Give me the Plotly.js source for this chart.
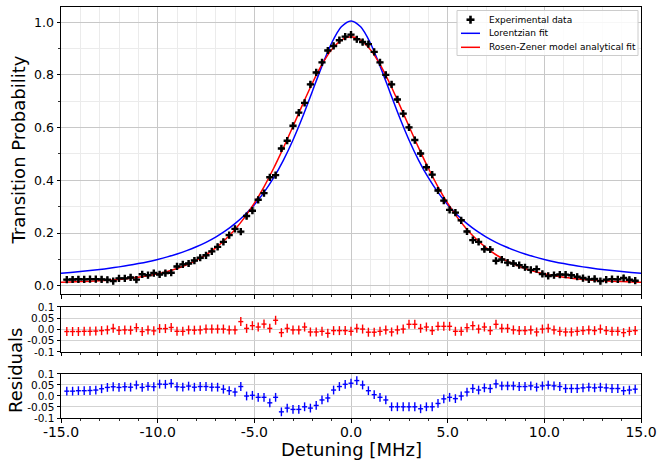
<!DOCTYPE html>
<html>
<head>
<meta charset="utf-8">
<script src="https://cdn.plot.ly/plotly-3.0.1.min.js"></script>
<style>html,body{margin:0;padding:0;background:#fff;}#chart{width:660px;height:460px;}</style>
</head>
<body>
<div id="chart"></div>
<script>
// Detuning values of the measured points [MHz]
var detuning = [-14.7,-14.4,-14.1,-13.8,-13.5,-13.2,-12.9,-12.6,-12.3,-12.0,
  -11.7,-11.4,-11.1,-10.8,-10.5,-10.2,-9.9,-9.6,-9.3,-9.0,
  -8.7,-8.4,-8.1,-7.8,-7.5,-7.2,-6.9,-6.6,-6.3,-6.0,
  -5.7,-5.4,-5.1,-4.8,-4.5,-4.2,-3.9,-3.6,-3.3,-3.0,
  -2.7,-2.4,-2.1,-1.8,-1.5,-1.2,-0.9,-0.6,-0.3,0.0,
  0.3,0.6,0.9,1.2,1.5,1.8,2.1,2.4,2.7,3.0,
  3.3,3.6,3.9,4.2,4.5,4.8,5.1,5.4,5.7,6.0,
  6.3,6.6,6.9,7.2,7.5,7.8,8.1,8.4,8.7,9.0,
  9.3,9.6,9.9,10.2,10.5,10.8,11.1,11.4,11.7,12.0,
  12.3,12.6,12.9,13.2,13.5,13.8,14.1,14.4,14.7];

// Measured transition probability
var experimental = [0.0230,0.0236,0.0243,0.0241,0.0250,0.0250,0.0242,0.0226,0.0172,0.0280,
  0.0280,0.0314,0.0232,0.0433,0.0399,0.0480,0.0427,0.0480,0.0491,0.0731,
  0.0811,0.0842,0.0955,0.1062,0.1155,0.1305,0.1475,0.1665,0.1919,0.2157,
  0.2052,0.2645,0.2848,0.3261,0.3514,0.4116,0.4196,0.5210,0.5504,0.6071,
  0.6572,0.6940,0.7641,0.8095,0.8478,0.8928,0.9102,0.9320,0.9455,0.9530,
  0.9355,0.9250,0.9172,0.8878,0.8478,0.8005,0.7641,0.7070,0.6532,0.6010,
  0.5530,0.5020,0.4496,0.4216,0.3614,0.3231,0.2878,0.2775,0.2482,0.2057,
  0.1729,0.1665,0.1385,0.1375,0.0945,0.0992,0.0875,0.0842,0.0781,0.0701,
  0.0601,0.0630,0.0447,0.0370,0.0399,0.0423,0.0422,0.0394,0.0340,0.0290,
  0.0242,0.0256,0.0172,0.0230,0.0250,0.0241,0.0293,0.0226,0.0190];

// Residuals of the Rosen-Zener fit
var rzResiduals = [-0.009,-0.009,-0.009,-0.008,-0.008,-0.007,-0.005,-0.002,0.005,-0.004,
  -0.002,-0.003,0.008,-0.009,-0.002,-0.006,0.004,0.004,0.009,-0.008,
  -0.008,-0.002,-0.003,-0.002,0.002,0.002,0.002,0.002,-0.002,-0.002,
  0.035,0.005,0.017,0.011,0.024,0.005,0.041,-0.014,0.005,-0.002,
  -0.002,0.011,-0.011,-0.011,-0.008,-0.017,-0.005,-0.005,-0.005,-0.008,
  0.005,0.002,-0.012,-0.012,-0.008,-0.002,-0.011,-0.002,0.002,0.023,
  0.023,0.005,0.011,-0.005,0.014,0.014,0.014,-0.008,-0.008,0.008,
  0.017,0.002,0.011,-0.005,0.023,0.005,0.005,-0.002,-0.005,-0.005,
  -0.002,-0.011,0.002,0.005,-0.002,-0.008,-0.011,-0.011,-0.008,-0.005,
  -0.002,-0.005,0.002,-0.005,-0.008,-0.008,-0.014,-0.008,-0.005];

// Residuals of the Lorentzian fit
var lorResiduals = [0.022,0.022,0.024,0.024,0.025,0.027,0.033,0.039,0.042,0.039,
  0.042,0.040,0.050,0.039,0.044,0.042,0.054,0.053,0.057,0.042,
  0.040,0.045,0.040,0.043,0.043,0.040,0.040,0.031,0.024,0.018,
  0.043,0.000,0.003,-0.006,-0.006,-0.031,-0.006,-0.072,-0.055,-0.061,
  -0.061,-0.049,-0.055,-0.043,-0.018,-0.009,0.027,0.043,0.053,0.058,
  0.070,0.050,0.024,0.006,-0.006,-0.018,-0.049,-0.049,-0.049,-0.049,
  -0.049,-0.058,-0.049,-0.049,-0.034,-0.013,-0.006,-0.012,0.000,0.018,
  0.034,0.027,0.037,0.034,0.055,0.046,0.046,0.046,0.043,0.043,
  0.046,0.040,0.046,0.049,0.046,0.043,0.034,0.034,0.034,0.037,
  0.040,0.037,0.040,0.037,0.034,0.034,0.024,0.027,0.031];

// Fit curves sampled along the detuning axis
var fitDetuning = [-15,-14.5,-14,-13.5,-13,-12.5,-12,-11.5,-11,-10.5,-10,-9.5,-9,-8.5,-8,-7.5,-7,-6.5,-6,-5.5,
  -5,-4.5,-4,-3.5,-3,-2.5,-2,-1.5,-1,-0.5,0,0.5,1,1.5,2,2.5,3,3.5,4,4.5,
  5,5.5,6,6.5,7,7.5,8,8.5,9,9.5,10,10.5,11,11.5,12,12.5,13,13.5,14,14.5,15];
var lorentzianFit = [0.0469,0.0501,0.0535,0.0573,0.0615,0.0662,0.0715,0.0773,0.0839,0.0913,
  0.0998,0.1094,0.1204,0.1330,0.1477,0.1647,0.1846,0.2079,0.2356,0.2684,
  0.3075,0.3542,0.4099,0.4760,0.5533,0.6413,0.7374,0.8346,0.9214,0.9827,1.005,
  0.9827,0.9214,0.8346,0.7374,0.6413,0.5533,0.4760,0.4099,0.3542,0.3075,
  0.2684,0.2356,0.2079,0.1846,0.1647,0.1477,0.1330,0.1204,0.1094,0.0998,
  0.0913,0.0839,0.0773,0.0715,0.0662,0.0615,0.0573,0.0535,0.0501,0.0469];
var rosenZenerFit = [0.0135,0.0144,0.0155,0.0170,0.0188,0.0211,0.0240,0.0276,0.0321,0.0379,
  0.0450,0.0540,0.0651,0.0790,0.0963,0.1175,0.1436,0.1754,0.2137,0.2594,
  0.3132,0.3754,0.4457,0.5230,0.6051,0.6885,0.7686,0.8398,0.8962,0.9325,0.9450,
  0.9325,0.8962,0.8398,0.7686,0.6885,0.6051,0.5230,0.4457,0.3754,0.3132,
  0.2594,0.2137,0.1754,0.1436,0.1175,0.0963,0.0790,0.0651,0.0540,0.0450,
  0.0379,0.0321,0.0276,0.0240,0.0211,0.0188,0.0170,0.0155,0.0144,0.0135];

// Tick labels
var xTickVals = [-15,-10,-5,0,5,10,15];
var xTickText = ['-15.0','-10.0','-5.0','0.0','5.0','10.0','15.0'];
var yTickVals = [0,0.2,0.4,0.6,0.8,1.0];
var yTickText = ['0.0','0.2','0.4','0.6','0.8','1.0'];
var resTickVals = [-0.1,-0.05,0,0.05,0.1];
var resTickText = ['-0.1','-0.05','0.0','0.05','0.1'];

// Legend entries (labels and colours)
var legendLabels = ['Experimental data', 'Lorentzian fit', 'Rosen-Zener model analytical fit'];
var legendColors = ['#000000', '#0000ff', '#ff0000'];

var FONT = 'DejaVu Sans, Liberation Sans, sans-serif';

var traces = [
  {x: fitDetuning, y: lorentzianFit, mode: 'lines', name: legendLabels[1],
   line: {color: legendColors[1], width: 1.5, shape: 'spline', smoothing: 0.8},
   xaxis: 'x', yaxis: 'y'},
  {x: fitDetuning, y: rosenZenerFit, mode: 'lines', name: legendLabels[2],
   line: {color: legendColors[2], width: 1.5, shape: 'spline', smoothing: 0.8},
   xaxis: 'x', yaxis: 'y'},
  {x: detuning, y: experimental, mode: 'markers', name: legendLabels[0],
   marker: {symbol: 'cross', size: 6, color: '#000000'},
   error_y: {type: 'constant', value: 0.012, thickness: 1.5, width: 0, color: '#000000'},
   error_x: {type: 'constant', value: 0.13, thickness: 1.5, width: 0, color: '#000000'},
   xaxis: 'x', yaxis: 'y'},
  {x: detuning, y: rzResiduals, mode: 'markers', name: 'Rosen-Zener residuals',
   marker: {size: 1, color: '#ff0000'},
   error_y: {type: 'constant', value: 0.02, thickness: 1.4, width: 0, color: '#ff0000'},
   error_x: {type: 'constant', value: 0.13, thickness: 1.4, width: 0, color: '#ff0000'},
   xaxis: 'x2', yaxis: 'y2'},
  {x: detuning, y: lorResiduals, mode: 'markers', name: 'Lorentzian residuals',
   marker: {size: 1, color: '#0000ff'},
   error_y: {type: 'constant', value: 0.02, thickness: 1.4, width: 0, color: '#0000ff'},
   error_x: {type: 'constant', value: 0.13, thickness: 1.4, width: 0, color: '#0000ff'},
   xaxis: 'x3', yaxis: 'y3'}
];

function xAxis(anchor, showLabels, minorGrid) {
  return {
    anchor: anchor, domain: [0, 1], range: [-15, 15],
    tickmode: 'array', tickvals: xTickVals, ticktext: xTickText,
    showticklabels: showLabels, ticklabelstandoff: -2,
    ticks: 'outside', ticklen: 3.5, tickwidth: 1, tickcolor: '#000',
    tickfont: {family: FONT, size: 14, color: '#000'},
    showline: true, mirror: true, linecolor: '#000', linewidth: 1,
    showgrid: true, gridcolor: '#c8c8c8', gridwidth: 1, zeroline: false,
    minor: {tickmode: 'linear', tick0: 0, dtick: 1, ticks: 'outside', ticklen: 2,
            tickwidth: 0.8, tickcolor: '#000', showgrid: minorGrid, gridcolor: '#ebebeb', gridwidth: 1}
  };
}
function resAxis(anchor, domain) {
  return {
    anchor: anchor, domain: domain, range: [-0.1, 0.1],
    tickmode: 'array', tickvals: resTickVals, ticktext: resTickText,
    ticks: 'outside', ticklen: 3.5, tickwidth: 1, tickcolor: '#000',
    tickfont: {family: FONT, size: 10.5, color: '#000'},
    showline: true, mirror: true, linecolor: '#000', linewidth: 1,
    showgrid: true, gridcolor: '#d3d3d3', gridwidth: 1, zeroline: false
  };
}

// Legend drawn in paper coordinates (plot area: 61..641 px wide, 7..418 px tall)
function px(xp) { return (xp - 61) / 580; }
function py(yp) { return (418 - yp) / 411; }
var legendRowY = [19.7, 33.3, 47.3];
var shapes = [
  {type: 'rect', xref: 'paper', yref: 'paper', x0: px(457), x1: px(638), y0: py(55.5), y1: py(10.5),
   line: {color: '#cccccc', width: 1}, fillcolor: 'rgba(255,255,255,0.85)', layer: 'above'},
  {type: 'line', xref: 'paper', yref: 'paper', x0: px(466.5), x1: px(474.5), y0: py(legendRowY[0]), y1: py(legendRowY[0]),
   line: {color: legendColors[0], width: 2.6}, layer: 'above'},
  {type: 'line', xref: 'paper', yref: 'paper', x0: px(470.5), x1: px(470.5), y0: py(legendRowY[0] - 4), y1: py(legendRowY[0] + 4),
   line: {color: legendColors[0], width: 2.6}, layer: 'above'},
  {type: 'line', xref: 'paper', yref: 'paper', x0: px(461), x1: px(480), y0: py(legendRowY[1]), y1: py(legendRowY[1]),
   line: {color: legendColors[1], width: 1.5}, layer: 'above'},
  {type: 'line', xref: 'paper', yref: 'paper', x0: px(461), x1: px(480), y0: py(legendRowY[2]), y1: py(legendRowY[2]),
   line: {color: legendColors[2], width: 1.5}, layer: 'above'}
];

var annotations = [
  {text: 'Transition Probability', xref: 'paper', yref: 'paper', x: -0.0741, y: 0.6509,
   xanchor: 'center', yanchor: 'middle', textangle: -90, showarrow: false,
   font: {family: FONT, size: 18, color: '#000'}},
  {text: 'Residuals', xref: 'paper', yref: 'paper', x: -0.0776, y: 0.1168,
   xanchor: 'center', yanchor: 'middle', textangle: -90, showarrow: false,
   font: {family: FONT, size: 18, color: '#000'}},
  {text: 'Detuning [MHz]', xref: 'paper', yref: 'paper', x: 0.5, y: py(449),
   xanchor: 'center', yanchor: 'middle', showarrow: false,
   font: {family: FONT, size: 18, color: '#000'}}
];
for (var k = 0; k < legendLabels.length; k++) {
  annotations.push({text: legendLabels[k], xref: 'paper', yref: 'paper', x: px(487), y: py(legendRowY[k]),
    xanchor: 'left', yanchor: 'middle', showarrow: false,
    font: {family: FONT, size: 9, color: '#000'}});
}

var layout = {
  width: 660, height: 460,
  margin: {l: 61, r: 19, t: 7, b: 42, pad: 0},
  paper_bgcolor: '#ffffff', plot_bgcolor: '#ffffff',
  font: {family: FONT, color: '#000'},
  showlegend: false,
  xaxis: xAxis('y', false, true),
  xaxis2: Object.assign(xAxis('y2', false, false), {matches: 'x'}),
  xaxis3: Object.assign(xAxis('y3', true, false), {matches: 'x'}),
  yaxis: {
    anchor: 'x', domain: [0.3017, 1], range: [-0.0315, 1.058],
    tickmode: 'array', tickvals: yTickVals, ticktext: yTickText,
    ticks: 'outside', ticklen: 3.5, tickwidth: 1, tickcolor: '#000',
    tickfont: {family: FONT, size: 12.5, color: '#000'},
    showline: true, mirror: true, linecolor: '#000', linewidth: 1,
    showgrid: true, gridcolor: '#c8c8c8', gridwidth: 1, zeroline: false,
    minor: {tickmode: 'linear', tick0: 0, dtick: 0.1, ticks: 'outside', ticklen: 2,
            tickwidth: 0.8, tickcolor: '#000', showgrid: true, gridcolor: '#ebebeb', gridwidth: 1}
  },
  yaxis2: resAxis('x2', [0.1606, 0.2701]),
  yaxis3: resAxis('x3', [0, 0.1071]),
  shapes: shapes,
  annotations: annotations
};

Plotly.newPlot('chart', traces, layout, {displayModeBar: false, staticPlot: true});
</script>
</body>
</html>
